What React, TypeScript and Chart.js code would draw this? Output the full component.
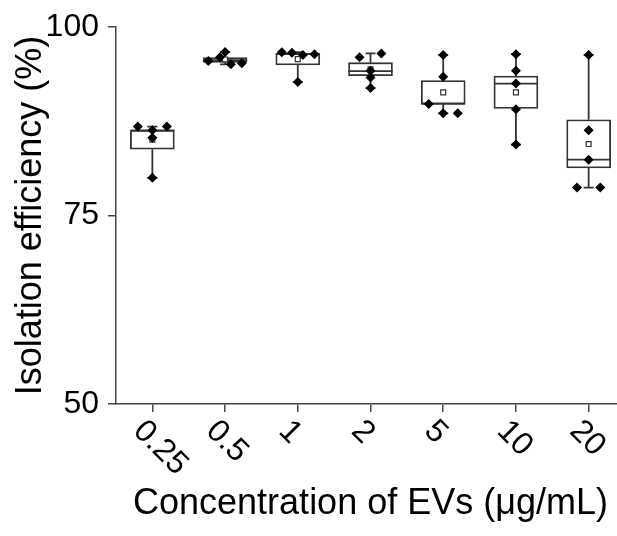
import React, { useEffect, useRef } from 'react';
import { Chart, registerables } from 'chart.js';

Chart.register(...registerables);

const categories = ['0.25', '0.5', '1', '2', '5', '10', '20'];
const whiskerLow = [80.0, 95.05, 92.7, 91.9, 88.55, 84.4, 78.7];
const q1 = [83.8, 95.3, 94.96, 93.54, 89.8, 89.2, 81.3];
const median = [86.3, 95.6, 96.4, 94.16, 89.8, 92.5, 82.4];
const q3 = [86.3, 95.95, 96.5, 95.27, 92.9, 93.5, 87.7];
const whiskerHigh = [86.8, 96.7, 96.65, 96.5, 96.3, 96.4, 96.3];
const means = [85.04, 95.69, 95.73, 94.38, 91.32, 91.32, 84.48];
const pointValues = [
  [86.8, 86.8, 86.3, 85.3, 80.0],
  [96.7, 96.0, 95.5, 95.2, 95.05],
  [96.65, 96.6, 96.4, 96.3, 92.7],
  [96.5, 96.0, 94.2, 93.3, 91.9],
  [96.3, 93.4, 89.8, 88.55, 88.55],
  [96.4, 94.2, 92.5, 89.1, 84.4],
  [96.3, 86.3, 82.4, 78.7, 78.7],
];
const pointOffsets = [
  [-0.2, 0.2, 0, 0, 0],
  [0, -0.07, -0.23, 0.23, 0.08],
  [-0.22, -0.08, 0.23, 0.07, 0],
  [0.15, -0.15, 0, 0, 0],
  [0, 0, -0.2, 0, 0.2],
  [0, 0, 0, 0, 0],
  [0, 0, 0, -0.16, 0.16],
];
const yTicks = [50, 75, 100];

const FONT = '"Liberation Sans", Arial, sans-serif';
const LINE = '#444';
const BOX = '#333';

export default function App() {
  const ref = useRef<HTMLCanvasElement>(null);

  useEffect(() => {
    document.body.style.margin = '0';
    const canvas = ref.current;
    if (!canvas) return;

    const boxExtras = {
      id: 'boxExtras',
      afterDatasetDraw(chart: any, args: any) {
        if (args.index !== 2) return;
        const ctx = chart.ctx;
        const xs = chart.scales.x;
        const ys = chart.scales.y;
        const meta = chart.getDatasetMeta(2);
        ctx.save();
        ctx.strokeStyle = BOX;
        ctx.lineWidth = 1.8;
        categories.forEach((_, i) => {
          const cx = xs.getPixelForValue(i);
          const half = meta.data[i] ? meta.data[i].width / 2 : 22;
          const capHalf = 5;
          const yLow = ys.getPixelForValue(whiskerLow[i]);
          const yQ1 = ys.getPixelForValue(q1[i]);
          const yQ3 = ys.getPixelForValue(q3[i]);
          const yHigh = ys.getPixelForValue(whiskerHigh[i]);
          const yMed = ys.getPixelForValue(median[i]);
          ctx.beginPath();
          ctx.moveTo(cx, yQ1);
          ctx.lineTo(cx, yLow);
          ctx.moveTo(cx - capHalf, yLow);
          ctx.lineTo(cx + capHalf, yLow);
          ctx.moveTo(cx, yQ3);
          ctx.lineTo(cx, yHigh);
          ctx.moveTo(cx - capHalf, yHigh);
          ctx.lineTo(cx + capHalf, yHigh);
          ctx.moveTo(cx - half, yMed);
          ctx.lineTo(cx + half, yMed);
          ctx.stroke();
        });
        ctx.restore();
      },
      afterDraw(chart: any) {
        const ctx = chart.ctx;
        const xs = chart.scales.x;
        ctx.save();
        ctx.font = `32px ${FONT}`;
        ctx.fillStyle = '#000';
        ctx.textAlign = 'left';
        ctx.textBaseline = 'middle';
        categories.forEach((label, i) => {
          const px = xs.getPixelForValue(i);
          ctx.save();
          ctx.translate(px - 14, xs.top + 22);
          ctx.rotate(Math.PI / 4);
          ctx.fillText(label, 0, 0);
          ctx.restore();
        });
        ctx.restore();
      },
    };

    const points: { x: number; y: number }[] = [];
    pointValues.forEach((vals, i) => {
      vals.forEach((v, j) => points.push({ x: i + pointOffsets[i][j], y: v }));
    });

    const chart = new Chart(canvas, {
      type: 'bar',
      data: {
        datasets: [
          {
            type: 'scatter',
            data: points,
            pointStyle: 'rectRot',
            pointRadius: 5,
            backgroundColor: '#000',
            borderColor: '#000',
            borderWidth: 0,
          } as any,
          {
            type: 'scatter',
            data: means.map((m, i) => ({ x: i, y: m })),
            pointStyle: 'rect',
            pointRadius: 3.5,
            backgroundColor: '#fff',
            borderColor: BOX,
            borderWidth: 1.2,
          } as any,
          {
            type: 'bar',
            data: categories.map((_, i) => ({ x: i, y: [q1[i], q3[i]] })),
            backgroundColor: '#fff',
            borderColor: BOX,
            borderWidth: 1.8,
            borderSkipped: false,
            barThickness: 44,
          } as any,
        ],
      },
      options: {
        responsive: false,
        animation: false,
        layout: { autoPadding: false, padding: { top: 19, left: 0, right: 0, bottom: 0 } },
        plugins: {
          legend: { display: false },
          tooltip: { enabled: false },
        },
        scales: {
          x: {
            type: 'linear',
            min: -0.5,
            max: 6.5,
            offset: false,
            afterBuildTicks: (s: any) => {
              s.ticks = categories.map((_, i) => ({ value: i }));
              s.min = -0.5;
              s.max = 6.5;
            },
            afterFit: (s: any) => {
              s.height = 132;
              s.paddingLeft = 0;
              s.paddingRight = 0;
            },
            ticks: { display: false },
            grid: {
              offset: false,
              drawOnChartArea: false,
              drawTicks: true,
              tickLength: 8,
              color: LINE,
              lineWidth: 1.5,
            },
            border: { display: true, color: LINE, width: 1.5 },
            title: {
              display: true,
              text: 'Concentration of EVs (μg/mL)',
              color: '#000',
              font: { family: FONT, size: 36 },
              padding: { top: 0, bottom: 10 },
            },
          },
          y: {
            type: 'linear',
            min: 50,
            max: 100,
            afterBuildTicks: (s: any) => {
              s.ticks = yTicks.map((v) => ({ value: v }));
            },
            afterFit: (s: any) => {
              s.width = 108;
              s.paddingTop = 0;
              s.paddingBottom = 0;
            },
            ticks: {
              color: '#000',
              font: { family: FONT, size: 32 },
              padding: 9,
            },
            grid: {
              drawOnChartArea: false,
              drawTicks: true,
              tickLength: 8,
              color: LINE,
              lineWidth: 1.5,
            },
            border: { display: true, color: LINE, width: 1.5 },
            title: {
              display: true,
              text: 'Isolation efficiency (%)',
              color: '#000',
              font: { family: FONT, size: 36 },
              padding: { top: 1, bottom: 0 },
            },
          },
        },
      } as any,
      plugins: [boxExtras],
    });

    return () => chart.destroy();
  }, []);

  return (
    <div
      style={{
        width: 617,
        height: 536,
        overflow: 'hidden',
        paddingLeft: 8,
        paddingTop: 8,
        boxSizing: 'border-box',
        margin: 0,
      }}
    >
      <canvas ref={ref} width={617} height={528} style={{ display: 'block', width: 617, height: 528 }} />
    </div>
  );
}
